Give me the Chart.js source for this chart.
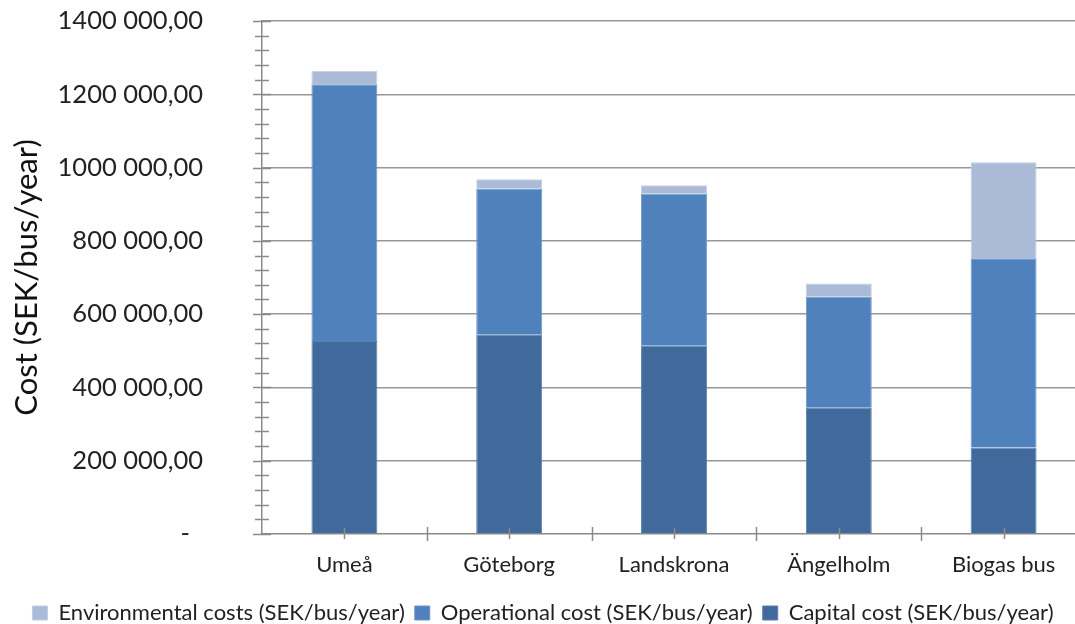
<!DOCTYPE html>
<html>
<head>
<meta charset="utf-8">
<script src="https://cdn.jsdelivr.net/npm/chart.js@4/dist/chart.umd.min.js"></script>
<style>
  html, body { margin: 0; padding: 0; background: #fff; overflow: hidden; }
  #wrap { width: 1090px; height: 624px; position: relative; }
</style>
</head>
<body>
<div id="wrap"><canvas id="c" width="1090" height="624"></canvas></div>
<script>
// Cost categories (bus alternatives)
const categories = ['Umeå', 'Göteborg', 'Landskrona', 'Ängelholm', 'Biogas bus'];

// Cost components, SEK/bus/year
const capitalCost       = [527000, 543600, 513600, 344500, 236400];
const operationalCost   = [700100, 399100, 415500, 302800, 516300];
const environmentalCost = [37300, 25500, 22700, 36300, 261800];

const seriesNames = [
  'Capital cost (SEK/bus/year)',
  'Operational cost (SEK/bus/year)',
  'Environmental costs (SEK/bus/year)'
];

// Axis settings
const yMax = 1400000;
const yMajorStep = 200000;
const yMinorStep = 40000;

const FONT = 'Lato, "Open Sans", "DejaVu Sans", sans-serif';

function formatCost(v) {
  if (v === 0) return '-  ';
  const th = Math.floor(v / 1000);
  const rest = String(v % 1000).padStart(3, '0');
  return th + ' ' + rest + ',00';
}

// Tick marks that cross the axis lines
const crossTicks = {
  id: 'crossTicks',
  afterDraw(chart) {
    const { ctx, scales: { x, y }, chartArea } = chart;
    ctx.save();
    ctx.strokeStyle = '#8a8a8a';
    ctx.lineWidth = 1.5;
    const ax = chartArea.left;
    for (let v = 0; v <= yMax; v += yMinorStep) {
      const py = Math.round(y.getPixelForValue(v)) + 0.5;
      const major = v % yMajorStep === 0;
      ctx.beginPath();
      ctx.moveTo(ax - (major ? 9 : 7), py);
      ctx.lineTo(ax + (major ? 9 : 7), py);
      ctx.stroke();
    }
    const by = chartArea.bottom;
    const step = x.getPixelForValue(1) - x.getPixelForValue(0);
    for (let i = 0; i < categories.length; i++) {
      const cx = x.getPixelForValue(i);
      ctx.beginPath();
      ctx.moveTo(Math.round(cx) + 0.5, by - 6);
      ctx.lineTo(Math.round(cx) + 0.5, by + 5);
      ctx.stroke();
      const bx = Math.round(cx + step / 2) + 0.5;
      ctx.beginPath();
      ctx.moveTo(bx, by - 7);
      ctx.lineTo(bx, by + 7);
      ctx.stroke();
    }
    ctx.restore();
  }
};

new Chart(document.getElementById('c'), {
  type: 'bar',
  data: {
    labels: categories,
    datasets: [
      { label: seriesNames[0], data: capitalCost, backgroundColor: '#406a9b', borderColor: '#5a7fab', borderWidth: 1 },
      { label: seriesNames[1], data: operationalCost, backgroundColor: '#4f81bd', borderColor: '#7097c8', borderWidth: 1 },
      { label: seriesNames[2], data: environmentalCost, backgroundColor: '#abbad7', borderColor: '#c3cee3', borderWidth: 1 }
    ]
  },
  options: {
    responsive: false,
    animation: false,
    events: [],
    layout: { padding: { left: 0, right: 4, top: 0, bottom: -10 } },
    datasets: { bar: { categoryPercentage: 1, barPercentage: 0.4 } },
    plugins: {
      tooltip: { enabled: false },
      legend: {
        position: 'bottom',
        reverse: true,
        labels: {
          color: '#222',
          font: { family: FONT, size: 22 },
          boxWidth: 15,
          boxHeight: 14,
          padding: 10,
          useBorderRadius: false
        }
      }
    },
    scales: {
      x: {
        stacked: true,
        offset: true,
        afterFit(scale) { scale.height = 58; },
        grid: { display: false, drawTicks: false },
        border: { display: true, color: '#8a8a8a', width: 1.5 },
        ticks: { color: '#222', font: { family: FONT, size: 22 }, padding: 18 }
      },
      y: {
        stacked: true,
        min: 0,
        max: yMax,
        afterFit(scale) {
          scale.width = 262;
          scale.paddingTop = 21;
          scale.paddingBottom = 15;
        },
        grid: {
          drawTicks: false,
          color: (c) => (c.tick && c.tick.value % yMajorStep === 0 && c.tick.value !== 0) ? '#979797' : 'rgba(0,0,0,0)',
          lineWidth: 1.5
        },
        border: { display: true, color: '#8a8a8a', width: 1.5 },
        ticks: {
          stepSize: yMinorStep,
          autoSkip: false,
          padding: 59,
          color: '#222',
          font: { family: FONT, size: 25.5 },
          callback: (v) => (v % yMajorStep === 0 ? formatCost(v) : '')
        },
        title: {
          display: true,
          text: 'Cost (SEK/bus/year)',
          color: '#111',
          font: { family: FONT, size: 31 },
          padding: { top: 8, bottom: 0 }
        }
      }
    }
  },
  plugins: [crossTicks]
});
</script>
</body>
</html>
